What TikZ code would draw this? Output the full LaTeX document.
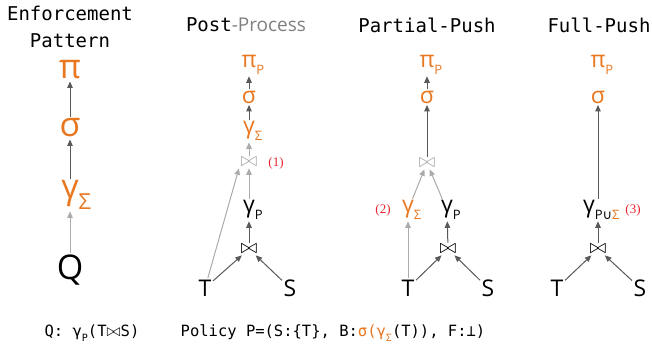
\documentclass[tikz,border=0pt]{standalone}
\usepackage{fontspec}
\usetikzlibrary{arrows.meta}

\newfontfamily\monofont{DejaVu Sans Mono}
\newfontfamily\symfont{Open Sans}
\newfontfamily\joinfont{DejaVu Sans}
\newfontfamily\notefont{Liberation Serif}

\definecolor{opcol}{HTML}{E8771F}
\definecolor{notecol}{HTML}{E8222F}
\definecolor{darkcol}{HTML}{595959}
\definecolor{lightcol}{HTML}{ABABAB}

% subscript that takes no width (keeps the symbol centred)
\newcommand{\subr}[2][13]{\rlap{\raisebox{-0.3em}{\fontsize{#1}{#1}\selectfont #2}}}
% subscript that takes its width (running text)
\newcommand{\subw}[2][10]{\raisebox{-0.3em}{\fontsize{#1}{#1}\selectfont #2}}
% join symbol, scaled
\newcommand{\joinsym}[1][2.0]{\scalebox{#1}{$\bowtie$}}

\tikzset{
  sym/.style={font=\symfont\fontsize{23}{23}\selectfont, inner sep=1.5pt},
  op/.style={sym, text=opcol},
  big/.style={font=\symfont\fontsize{34}{34}\selectfont, inner sep=2pt},
  bigop/.style={big, text=opcol},
  jn/.style={inner sep=1.5pt},
  jnlt/.style={jn, text=lightcol},
  note/.style={font=\notefont\fontsize{13}{13}\selectfont, text=notecol},
  title/.style={font=\monofont\fontsize{19}{27}\selectfont, align=center},
  dk/.style={draw=darkcol, line width=1pt, -{Triangle[width=5.5pt,length=6.5pt]}},
  lt/.style={dk, draw=lightcol},
}

\begin{document}
\begin{tikzpicture}[x=1pt,y=-1pt]
\useasboundingbox (0,0) rectangle (652,358);

% titles
\node[title] (t-ep) at (70,27) {Enforcement\\Pattern};
\node[title] (t-pp) at (246,25) {Post{\symfont\color{gray}-Process}};
\node[title] (t-pa) at (427,25) {Partial-Push};
\node[title] (t-fp) at (599,25) {Full-Push};

% enforcement pattern
\node[bigop] (ep-pi)  at (70,70)  {π};
\node[bigop] (ep-sig) at (70,128) {σ};
\node[bigop] (ep-gam) at (70,195) {γ\subr[22]{Σ}};
\node[big]   (ep-q)   at (70,270) {Q};

\draw[dk] (ep-sig) -- (ep-pi);
\draw[dk] (ep-gam) -- (ep-sig);
\draw[lt] (ep-q) -- (ep-gam);

% post-process
\node[op]   (pp-pi)  at (249,65)  {π\subr{P}};
\node[op]   (pp-sig) at (249,97)  {σ};
\node[op]   (pp-gs)  at (249,131) {γ\subr{Σ}};
\node[jnlt] (pp-j2)  at (249,162) {\joinsym};
\node[sym]  (pp-gp)  at (249,210) {γ\subr{P}};
\node[jn]   (pp-j1)  at (249,249) {\joinsym};
\node[sym]  (pp-T)   at (205,288) {T};
\node[sym]  (pp-S)   at (290,288) {S};
\node[note] (pp-n)   at (276,163) {(1)};

\draw[dk] (pp-sig) -- (pp-pi);
\draw[dk] (pp-gs) -- (pp-sig);
\draw[lt] (pp-j2) -- (pp-gs);
\draw[lt] (pp-gp) -- (pp-j2);
\draw[lt] (pp-T) -- (pp-j2.south west);
\draw[dk] (pp-j1) -- (pp-gp);
\draw[dk] (pp-T) -- (pp-j1);
\draw[dk] (pp-S) -- (pp-j1);

% partial-push
\node[op]   (pa-pi)  at (427,65)  {π\subr{P}};
\node[op]   (pa-sig) at (427,97)  {σ};
\node[jnlt] (pa-j2)  at (427,163) {\joinsym};
\node[op]   (pa-gs)  at (408,210) {γ\subr{Σ}};
\node[sym]  (pa-gp)  at (447,210) {γ\subr{P}};
\node[jn]   (pa-j1)  at (448,249) {\joinsym};
\node[sym]  (pa-T)   at (408,288) {T};
\node[sym]  (pa-S)   at (488,288) {S};
\node[note] (pa-n)   at (383,210) {(2)};

\draw[dk] (pa-sig) -- (pa-pi);
\draw[dk] (pa-j2) -- (pa-sig);
\draw[lt] (pa-gs) -- (pa-j2);
\draw[lt] (pa-gp) -- (pa-j2);
\draw[lt] (pa-T) -- (pa-gs);
\draw[dk] (pa-j1) -- (pa-gp);
\draw[dk] (pa-T) -- (pa-j1);
\draw[dk] (pa-S) -- (pa-j1);

% full-push
\node[op]   (fp-pi)  at (598,65)  {π\subr{P}};
\node[op]   (fp-sig) at (598,97)  {σ};
\node[sym]  (fp-g)   at (589,210) {γ\subr{P{\joinfont ∪}\textcolor{opcol}{Σ}}};
\node[jn]   (fp-j1)  at (598,249) {\joinsym};
\node[sym]  (fp-T)   at (557,288) {T};
\node[sym]  (fp-S)   at (640,288) {S};
\node[note] (fp-n)   at (633,210) {(3)};

\draw[dk] (fp-g.north -| fp-sig) -- (fp-sig);
\draw[dk] (fp-j1) -- (fp-j1 |- fp-g.south);
\draw[dk] (fp-T) -- (fp-j1);
\draw[dk] (fp-S) -- (fp-j1);

% query and policy
\node[font=\monofont\fontsize{15.5}{15.5}\selectfont] (qry) at (92,333)
  {Q: γ\subw{P}(T\joinsym[1.2]S)};
\node[font=\monofont\fontsize{15.5}{15.5}\selectfont] (pol) at (333,333)
  {Policy P=(S:\{T\}, B:\textcolor{opcol}{σ(γ\subw{Σ}}(T)), F:⊥)};
\end{tikzpicture}
\end{document}
